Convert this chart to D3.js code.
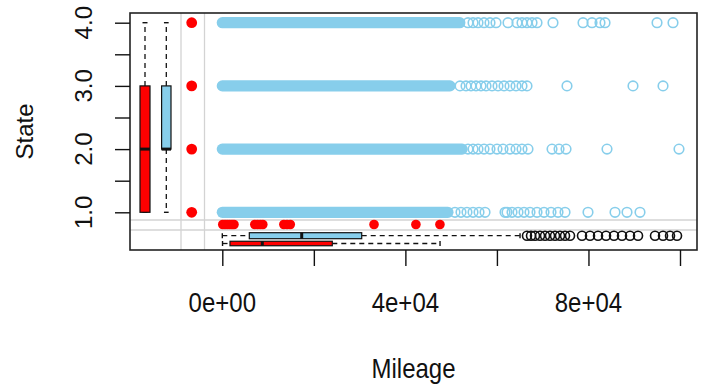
<!DOCTYPE html>
<html>
<head>
<meta charset="utf-8">
<script src="https://cdn.jsdelivr.net/npm/d3@7"></script>
<style>
  body { margin: 0; background: #fff; }
  text { font-family: "Liberation Sans", Arial, sans-serif; fill: #111; }
</style>
</head>
<body>
<svg id="chart" width="704" height="385"></svg>
<script>
// values
const stateLevels = [1, 2, 3, 4];
const yTicks = [1, 1.5, 2, 2.5, 3, 3.5, 4];
const yTickLabels = ["1.0", "", "2.0", "", "3.0", "", "4.0"];
const xTicks = [0, 20000, 40000, 60000, 80000, 100000];
const xTickLabels = ["0e+00", "", "4e+04", "", "8e+04", ""];

// the crowded part of each State row (too dense to read single points)
const denseStart = [0, 0, 0, 0];
const denseEnd = [49300, 52400, 49750, 51900];

// single circles past the crowded part, one list per State
const sparseState1 = [50840, 52150, 53460, 54780, 56090, 57400, 61770, 62200, 63300, 64610, 65920, 67230, 68760, 70290, 71820, 73350, 74880, 79900, 85800, 88420, 91260];
const sparseState2 = [53680, 54780, 55870, 57180, 58490, 60020, 61330, 62860, 64170, 65480, 66790, 72040, 73570, 75100, 84050, 99780];
const sparseState3 = [51940, 53250, 54340, 55430, 56520, 57620, 58930, 60240, 61550, 62860, 64170, 65480, 66570, 75310, 89730, 96290];
const sparseState4 = [53680, 54780, 55870, 57180, 58490, 59800, 62420, 64390, 65480, 66570, 67670, 68760, 72250, 78810, 80780, 82520, 83620, 94980, 98470];

// missing-value margins (red)
const redState = [1, 2, 3, 4];
const redMileage = [100, 600, 1100, 1600, 2100, 2550, 7100, 7700, 8300, 8850, 13450, 14150, 14850, 33150, 42300, 47550];

// boxplot stats: [lower whisker, Q1, median, Q3, upper whisker]
const stateBoxRed = [1, 1, 2, 3, 4];
const stateBoxBlue = [1, 2, 2, 3, 4];
const mileageBoxBlue = [0, 5900, 17350, 30460, 65050];
const mileageBoxRed = [50, 1680, 8740, 24030, 47570];
const mileageOutliers = [66570, 67450, 68320, 69410, 70510, 71600, 72690, 73780, 74880, 75970, 78590, 80340, 82090, 83840, 85580, 87330, 89080, 90830, 94540, 96290, 97820, 99350];

const blue = "#87CEEB", red = "#FF0000";

const svg = d3.select("#chart");
const x = d3.scaleLinear().domain([-20166, 103714]).range([130, 697]);
const y = d3.scaleLinear().domain([0.4035, 4.1535]).range([250, 13]);

// margin zones
const gridV = [181, 204.5], gridH = [220, 230];
const dotsX = 191.7, dotsY = 224.5;

svg.selectAll("line.gv").data(gridV).join("line").attr("class", "gv")
  .attr("x1", d => d).attr("x2", d => d).attr("y1", 13).attr("y2", 250)
  .attr("stroke", "#d3d3d3").attr("stroke-width", 1.3);
svg.selectAll("line.gh").data(gridH).join("line").attr("class", "gh")
  .attr("x1", 130).attr("x2", 697).attr("y1", d => d).attr("y2", d => d)
  .attr("stroke", "#d3d3d3").attr("stroke-width", 1.3);

// dense bands
svg.selectAll("line.band").data(stateLevels).join("line").attr("class", "band")
  .attr("x1", (d, i) => x(denseStart[i])).attr("x2", (d, i) => x(denseEnd[i]))
  .attr("y1", d => y(d)).attr("y2", d => y(d))
  .attr("stroke", blue).attr("stroke-width", 11.2).attr("stroke-linecap", "round");

const sparse = [sparseState1, sparseState2, sparseState3, sparseState4]
  .flatMap((arr, i) => arr.map(m => ({ s: stateLevels[i], m })));
svg.selectAll("circle.pt").data(sparse).join("circle").attr("class", "pt")
  .attr("cx", d => x(d.m)).attr("cy", d => y(d.s)).attr("r", 4.8)
  .attr("fill", "none").attr("stroke", blue).attr("stroke-width", 1.6);

// red margin points
svg.selectAll("circle.rs").data(redState).join("circle").attr("class", "rs")
  .attr("cx", dotsX).attr("cy", d => y(d)).attr("r", 5.4).attr("fill", red);
svg.selectAll("circle.rm").data(redMileage).join("circle").attr("class", "rm")
  .attr("cx", d => x(d)).attr("cy", dotsY).attr("r", 4.8).attr("fill", red);

// vertical boxplots (State)
const dash = "5,4";
function vBox(st, cx, w, fill) {
  const g = svg.append("g");
  g.append("line").attr("x1", cx).attr("x2", cx).attr("y1", y(st[3])).attr("y2", y(st[4]))
    .attr("stroke", "#111").attr("stroke-width", 1.3).attr("stroke-dasharray", dash);
  g.append("line").attr("x1", cx).attr("x2", cx).attr("y1", y(st[1])).attr("y2", y(st[0]))
    .attr("stroke", "#111").attr("stroke-width", 1.3).attr("stroke-dasharray", dash);
  [st[0], st[4]].forEach(v => g.append("line")
    .attr("x1", cx - w / 4).attr("x2", cx + w / 4).attr("y1", y(v)).attr("y2", y(v))
    .attr("stroke", "#111").attr("stroke-width", 1.4));
  g.append("rect").attr("x", cx - w / 2).attr("width", w)
    .attr("y", y(st[3])).attr("height", y(st[1]) - y(st[3]))
    .attr("fill", fill).attr("stroke", "#111").attr("stroke-width", 1.2);
  g.append("line").attr("x1", cx - w / 2).attr("x2", cx + w / 2)
    .attr("y1", y(st[2])).attr("y2", y(st[2])).attr("stroke", "#111").attr("stroke-width", 3);
}
vBox(stateBoxRed, 145, 10, red);
vBox(stateBoxBlue, 166.3, 9.4, blue);

// horizontal boxplots (Mileage)
function hBox(st, cy, h, fill) {
  const g = svg.append("g");
  g.append("line").attr("x1", x(st[0])).attr("x2", x(st[1])).attr("y1", cy).attr("y2", cy)
    .attr("stroke", "#111").attr("stroke-width", 1.3).attr("stroke-dasharray", dash);
  g.append("line").attr("x1", x(st[3])).attr("x2", x(st[4])).attr("y1", cy).attr("y2", cy)
    .attr("stroke", "#111").attr("stroke-width", 1.3).attr("stroke-dasharray", dash);
  [st[0], st[4]].forEach(v => g.append("line")
    .attr("x1", x(v)).attr("x2", x(v)).attr("y1", cy - 2.5).attr("y2", cy + 2.5)
    .attr("stroke", "#111").attr("stroke-width", 1.4));
  g.append("rect").attr("x", x(st[1])).attr("width", x(st[3]) - x(st[1]))
    .attr("y", cy - h / 2).attr("height", h)
    .attr("fill", fill).attr("stroke", "#111").attr("stroke-width", 1.2);
  g.append("line").attr("x1", x(st[2])).attr("x2", x(st[2]))
    .attr("y1", cy - h / 2).attr("y2", cy + h / 2).attr("stroke", "#111").attr("stroke-width", 3);
}
hBox(mileageBoxBlue, 235.7, 6, blue);
hBox(mileageBoxRed, 243.5, 4.5, red);

svg.selectAll("circle.out").data(mileageOutliers).join("circle").attr("class", "out")
  .attr("cx", d => x(d)).attr("cy", 235.7).attr("r", 4.5)
  .attr("fill", "none").attr("stroke", "#111").attr("stroke-width", 1.6);

// frame
svg.append("rect").attr("x", 130).attr("y", 13).attr("width", 567).attr("height", 237)
  .attr("fill", "none").attr("stroke", "#222").attr("stroke-width", 1.6);

// axes
const yAxis = svg.append("g").attr("transform", "translate(130,0)")
  .call(d3.axisLeft(y).tickValues(yTicks).tickSize(15).tickFormat(""));
const xAxis = svg.append("g").attr("transform", "translate(0,250)")
  .call(d3.axisBottom(x).tickValues(xTicks).tickSize(16).tickFormat(""));
[yAxis, xAxis].forEach(a => {
  a.select(".domain").remove();
  a.selectAll(".tick line").attr("stroke", "#111").attr("stroke-width", 1.4);
});

svg.selectAll("text.yl").data(yTicks).join("text").attr("class", "yl")
  .attr("transform", d => `translate(91.5,${y(d)}) rotate(-90)`)
  .attr("text-anchor", "middle").attr("font-size", 24)
  .text((d, i) => yTickLabels[i]);
svg.selectAll("text.xl").data(xTicks).join("text").attr("class", "xl")
  .attr("transform", d => `translate(${x(d)},311.5) scale(1,1.18)`)
  .attr("text-anchor", "middle").attr("font-size", 24)
  .text((d, i) => xTickLabels[i]);

svg.append("text").attr("transform", "translate(413.5,378) scale(1,1.18)")
  .attr("text-anchor", "middle").attr("font-size", 24).text("Mileage");
svg.append("text").attr("transform", "translate(33,131.5) rotate(-90)")
  .attr("text-anchor", "middle").attr("font-size", 24).text("State");
</script>
</body>
</html>
